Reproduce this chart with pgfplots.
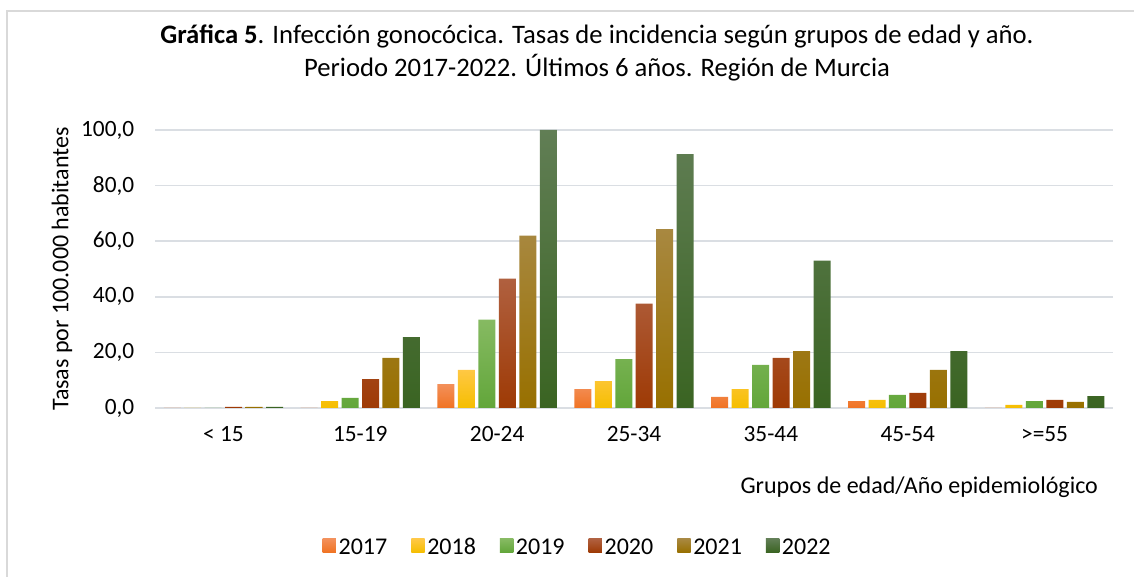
\documentclass[border=0pt]{standalone}
\usepackage{pgfplots}
\pgfplotsset{compat=1.18}
\usepackage{fontspec}
\setmainfont{Carlito}
\definecolor{gridc}{HTML}{DADEE3}
\definecolor{framec}{HTML}{D9D9D9}
\definecolor{a1}{HTML}{F3905A}\definecolor{b1}{HTML}{F07323}
\definecolor{a2}{HTML}{FFC844}\definecolor{b2}{HTML}{F5BE00}
\definecolor{a3}{HTML}{86BA62}\definecolor{b3}{HTML}{62A63A}
\definecolor{a4}{HTML}{B0603F}\definecolor{b4}{HTML}{9E3A05}
\definecolor{a5}{HTML}{A88840}\definecolor{b5}{HTML}{987000}
\definecolor{a6}{HTML}{617E55}\definecolor{b6}{HTML}{3A6422}
\begin{document}
\begin{tikzpicture}
\path[use as bounding box] (0pt,0pt) rectangle (850.5pt,432.75pt);
\draw[framec,line width=1.2pt] (5.25pt,0pt) -- (5.25pt,424.5pt) -- (850.5pt,424.5pt);
\node[align=center,font=\fontsize{20}{25}\selectfont] at (447.75pt,393pt)
  {\textbf{Gráfica 5}. Infección gonocócica. Tasas de incidencia según grupos de edad y año.\\
   Periodo 2017-2022. Últimos 6 años. Región de Murcia};
\node[rotate=90,font=\fontsize{18}{20}\selectfont] at (46.5pt,231pt) {Tasas por 100.000 habitantes};
\node[anchor=east,font=\fontsize{18}{20}\selectfont] at (827pt,67.5pt) {Grupos de edad/Año epidemiológico};
\begin{axis}[
  at={(116.25pt,126.75pt)}, anchor=south west,
  scale only axis, width=718.5pt, height=208.5pt,
  xmin=-0.5, xmax=6.5, ymin=0, ymax=100,
  ytick={0,20,...,100},
  xtick={0,...,6},
  xticklabels={< 15,15-19,20-24,25-34,35-44,45-54,>=55},
  axis line style={draw=none},
  major tick length=0pt,
  ymajorgrids, grid style={gridc,line width=1.1pt},
  ybar=2.6pt, bar width=12.75pt,
  clip=false,
  tick label style={font=\fontsize{17.5}{20}\selectfont},
  /pgf/number format/fixed,
  /pgf/number format/fixed zerofill,
  /pgf/number format/precision=1,
  /pgf/number format/use comma,
  /pgf/number format/assume math mode=true,
  xticklabel style={yshift=-10pt},
  yticklabel style={xshift=-12pt},
  legend style={at={(0.4415,-0.5)},anchor=center,draw=none,legend columns=6,
    font=\fontsize{18}{20}\selectfont,
    nodes={text depth=0pt,text height=12pt},
    /tikz/every even column/.append style={column sep=16pt}},
  legend image code/.code={\path[#1] (0pt,-4pt) rectangle (10pt,6pt);},
]
\addplot[draw=none,top color=a1,bottom color=b1] coordinates {(0,0) (1,0) (2,8.6) (3,6.8) (4,4.0) (5,2.5) (6,0)};
\addplot[draw=none,top color=a2,bottom color=b2] coordinates {(0,0) (1,2.5) (2,13.7) (3,9.7) (4,6.8) (5,2.9) (6,1.1)};
\addplot[draw=none,top color=a3,bottom color=b3] coordinates {(0,0) (1,3.6) (2,31.8) (3,17.6) (4,15.5) (5,4.7) (6,2.5)};
\addplot[draw=none,top color=a4,bottom color=b4] coordinates {(0,0.4) (1,10.4) (2,46.5) (3,37.5) (4,18.0) (5,5.4) (6,2.9)};
\addplot[draw=none,top color=a5,bottom color=b5] coordinates {(0,0.4) (1,18.0) (2,62.0) (3,64.3) (4,20.5) (5,13.7) (6,2.2)};
\addplot[draw=none,top color=a6,bottom color=b6] coordinates {(0,0.4) (1,25.5) (2,100.0) (3,91.3) (4,53.0) (5,20.5) (6,4.3)};
\legend{2017,2018,2019,2020,2021,2022}
\end{axis}
\end{tikzpicture}
\end{document}
